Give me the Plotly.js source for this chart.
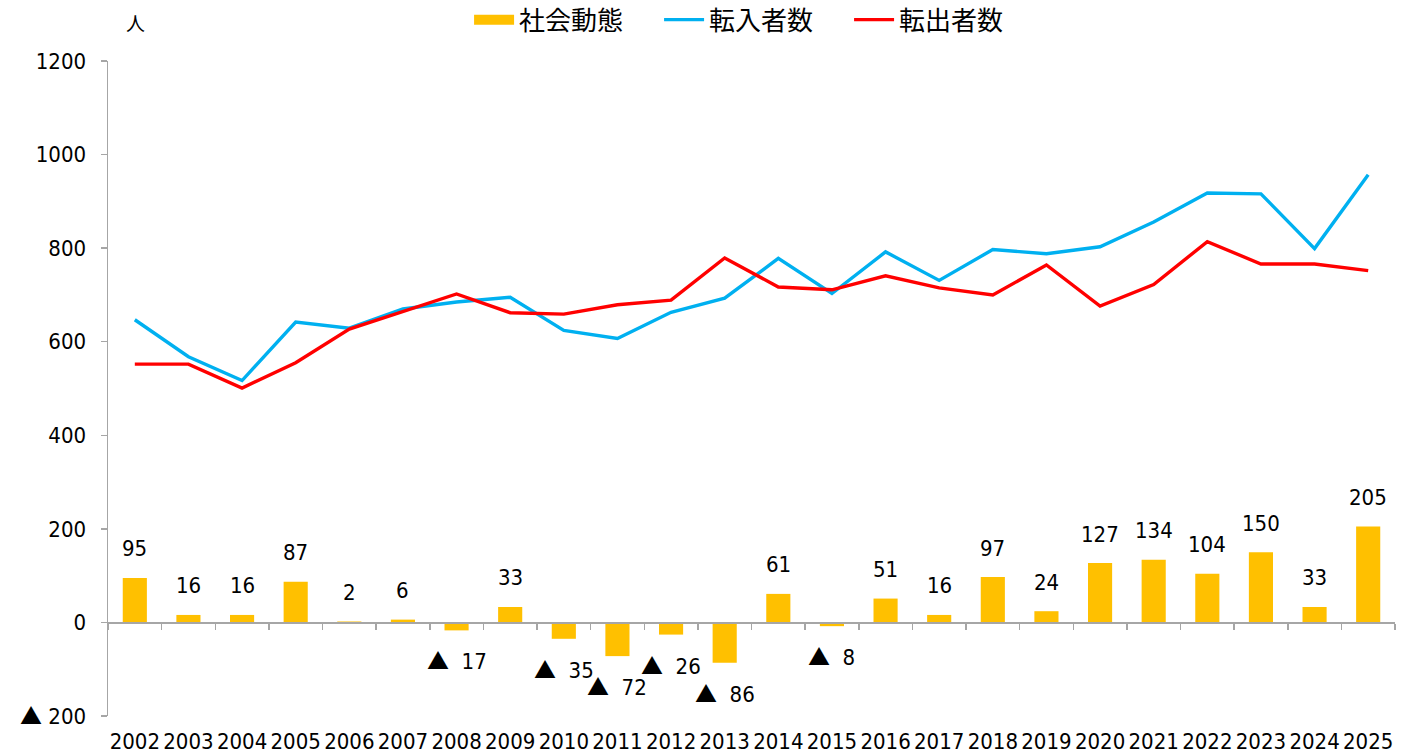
<!DOCTYPE html>
<html>
<head>
<meta charset="utf-8">
<script src="https://cdn.plot.ly/plotly-3.0.1.min.js"></script>
<style>html,body{margin:0;padding:0;background:#fff;}#chart{width:1406px;height:756px;}</style>
</head>
<body>
<div id="chart"></div>
<script>
const years = ['2002','2003','2004','2005','2006','2007','2008','2009','2010','2011','2012','2013','2014','2015','2016','2017','2018','2019','2020','2021','2022','2023','2024','2025'];
const socialChange = [95,16,16,87,2,6,-17,33,-35,-72,-26,-86,61,-8,51,16,97,24,127,134,104,150,33,205];
const inflow = [647,568,517,642,629,670,685,695,624,607,663,693,778,703,792,731,797,788,803,856,918,916,799,957];
const outflow = [552,552,501,555,627,664,702,662,659,679,689,779,717,711,741,715,700,764,676,722,814,766,766,752];
const yTickVals = [-200,0,200,400,600,800,1000,1200];
const yTickText = ['▲ 200','0','200','400','600','800','1000','1200'];

const FONT = '"DejaVu Sans Condensed", "Liberation Sans Narrow", "Noto Sans CJK JP", sans-serif';
const CJK = '"Noto Sans CJK JP", sans-serif';

const tri = '<span style="font-family:' + "'Noto Sans CJK JP'" + '">▲</span>';
function fmt(v){ return v < 0 ? tri + '\u00a0\u00a0' + Math.abs(v) : String(v); }
const yTickHtml = yTickText.map(t => t.replace('▲', tri));

const traces = [
  {type:'scatter', mode:'lines', name:'社会動態', x:[years[0]], y:[null], xaxis:'x', yaxis:'y',
   line:{color:'#FFC000', width:14}, hoverinfo:'skip'},
  {type:'bar', name:'社会動態', x:years, y:socialChange, xaxis:'x2', yaxis:'y', showlegend:false,
   marker:{color:'#FFC000'}, width:0.45, hoverinfo:'skip'},
  {type:'scatter', mode:'lines', name:'転入者数', x:years, y:inflow, xaxis:'x', yaxis:'y',
   line:{color:'#00B0F0', width:3.4}},
  {type:'scatter', mode:'lines', name:'転出者数', x:years, y:outflow, xaxis:'x', yaxis:'y',
   line:{color:'#FF0000', width:3.4}}
];

const annotations = years.map((yr,i)=>({
  x: i, y: socialChange[i], xref:'x', yref:'y',
  yshift: socialChange[i] >= 0 ? 29 : -29,
  text: fmt(socialChange[i]), showarrow:false,
  font:{family:FONT, size:22, color:'#000'}
}));
annotations.push({x:0.021, y:1.0595, xref:'paper', yref:'paper', xanchor:'center', yanchor:'middle',
  text:'人', showarrow:false, font:{family:CJK, size:19, color:'#000'}});

const layout = {
  width:1406, height:756,
  margin:{l:108, r:11, t:61, b:40, autoexpand:false},
  paper_bgcolor:'#fff', plot_bgcolor:'#fff',
  font:{family:FONT, size:22, color:'#000'},
  showlegend:true,
  legend:{orientation:'h', x:0.502, xanchor:'center', y:1.063, yanchor:'middle',
    font:{family:CJK, size:26, color:'#000'}, itemwidth:40, entrywidth:135, entrywidthmode:'pixels',
    traceorder:'normal', bgcolor:'rgba(0,0,0,0)'},
  xaxis:{type:'category', range:[-0.5,23.5], showline:false, ticks:'', showgrid:false, zeroline:false,
    tickangle:0, ticklabelstandoff:10, tickfont:{family:FONT, size:22, color:'#000'}, fixedrange:true},
  xaxis2:{type:'category', overlaying:'x', anchor:'free', position:1/7, side:'bottom',
    range:[-0.5,23.5], showline:true, linecolor:'#A6A6A6', linewidth:1.5,
    ticks:'outside', tickson:'boundaries', ticklen:6, tickcolor:'#A6A6A6', tickwidth:1.5,
    showticklabels:false, showgrid:false, zeroline:false},
  yaxis:{range:[-200,1200], tickvals:yTickVals, ticktext:yTickHtml, showgrid:false, zeroline:false,
    showline:true, linecolor:'#A6A6A6', linewidth:1.5, ticks:'outside', ticklen:6, tickcolor:'#A6A6A6', tickwidth:1.5,
    tickfont:{family:FONT, size:22, color:'#000'}, ticklabelstandoff:10},
  annotations: annotations
};

Plotly.newPlot('chart', traces, layout, {displayModeBar:false, staticPlot:true});
</script>
</body>
</html>
